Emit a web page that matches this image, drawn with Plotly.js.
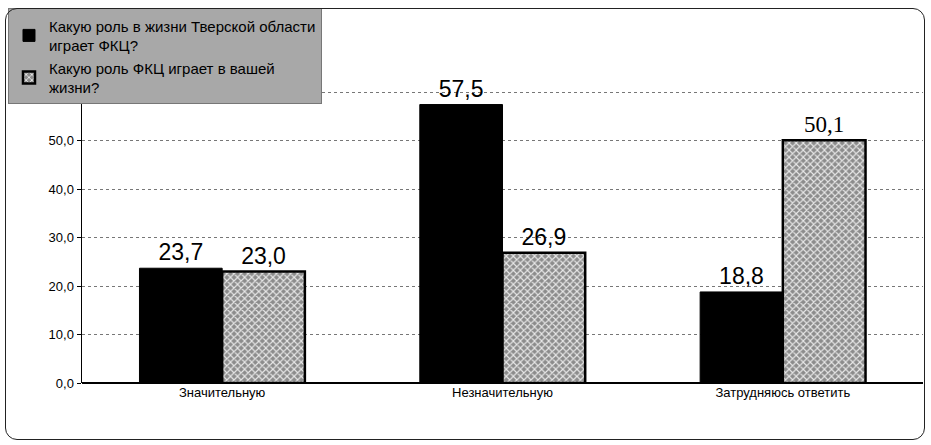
<!DOCTYPE html>
<html><head><meta charset="utf-8">
<script src="https://cdn.plot.ly/plotly-3.0.1.min.js"></script>
<style>
body{margin:0;background:#fff;}
#wrap{position:relative;width:931px;height:445px;}
#frame{position:absolute;left:5px;top:8px;width:918px;height:430px;border:1.5px solid #222;border-radius:12px;pointer-events:none;}
#chart{position:absolute;left:0;top:0;width:931px;height:445px;}
</style></head>
<body><div id="wrap"><div id="chart"></div><div id="frame"></div></div>
<script>
var categories = ['Значительную', 'Незначительную', 'Затрудняюсь ответить'];
var seriesNames = ['Какую роль в жизни Тверской области<br>играет ФКЦ?', 'Какую роль ФКЦ играет в вашей<br>жизни?'];
var series1 = [23.7, 57.5, 18.8];
var series2 = [23.0, 26.9, 50.1];
var yTicks = [0, 10, 20, 30, 40, 50, 60, 70];
var yTickLabels = ['0,0', '10,0', '20,0', '30,0', '40,0', '50,0', '', ''];

function fmt(v){ return v.toFixed(1).replace('.', ','); }

var data = [
  {type:'bar', name:seriesNames[0], x:categories, y:series1,
   marker:{color:'#000', line:{color:'#000', width:1}},
   text:series1.map(fmt), textposition:'outside', cliponaxis:false,
   textfont:{family:'Liberation Sans, Arial, sans-serif', size:23, color:'#000'}},
  {type:'bar', name:seriesNames[1], x:categories, y:series2,
   marker:{color:'#a0a0a0', line:{color:'#000', width:2.5},
           pattern:{shape:'x', fgcolor:'#e8e8e8', bgcolor:'#8c8c8c', size:5, solidity:0.4}},
   text:series2.map(fmt), textposition:'outside', cliponaxis:false,
   textfont:{family:['Liberation Sans, Arial, sans-serif','Liberation Sans, Arial, sans-serif','Liberation Serif, Times New Roman, serif'], size:23, color:'#000'}}
];

var layout = {
  width:931, height:445,
  margin:{l:80, r:8, t:40, b:62},
  paper_bgcolor:'rgba(0,0,0,0)', plot_bgcolor:'#fff',
  barmode:'group', bargap:0.41, bargroupgap:0,
  showlegend:true,
  legend:{x:-0.088, y:1.105, xanchor:'left', yanchor:'top',
          bgcolor:'#a8a8a8', bordercolor:'#777', borderwidth:1,
          font:{family:'Liberation Sans, Arial, sans-serif', size:15, color:'#000'},
          tracegroupgap:22, itemwidth:30},
  xaxis:{type:'category', showgrid:false, showline:false, zeroline:false,
         ticks:'', tickfont:{family:'Liberation Sans, Arial, sans-serif', size:13, color:'#000'}},
  yaxis:{range:[0,70], tickvals:yTicks, ticktext:yTickLabels,
         showline:true, linecolor:'#000', linewidth:1.5,
         ticks:'outside', ticklen:4, tickcolor:'#000',
         showgrid:true, gridcolor:'#777', griddash:'dot', gridwidth:1,
         zeroline:true, zerolinecolor:'#000', zerolinewidth:1.5,
         tickfont:{family:'Liberation Sans, Arial, sans-serif', size:13, color:'#000'}}
};

Plotly.newPlot('chart', data, layout, {displayModeBar:false, staticPlot:true});
</script></body></html>
